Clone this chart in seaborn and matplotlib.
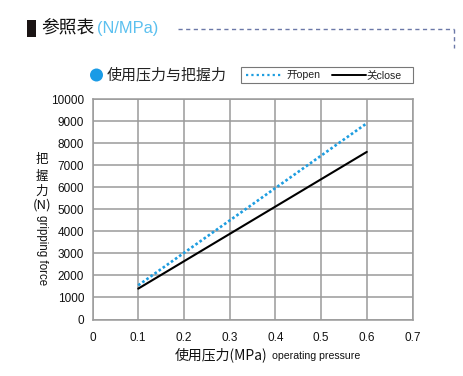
import matplotlib
matplotlib.use("Agg")
import matplotlib.pyplot as plt
import seaborn as sns
import pandas as pd
from matplotlib.lines import Line2D
from matplotlib.patches import Rectangle, Ellipse

sns.set_theme(style="white")
plt.rcParams['font.family'] = ['Liberation Sans', 'Noto Sans CJK SC', 'DejaVu Sans']

pressure = [0.1, 0.6]
open_force = [1550, 8900]
close_force = [1400, 7600]
x_ticks = [0, 0.1, 0.2, 0.3, 0.4, 0.5, 0.6, 0.7]
y_ticks = list(range(0, 10001, 1000))

BLUE = '#1d9de0'
GRID = '#9a9a9a'

df = pd.DataFrame({
    'pressure': pressure * 2,
    'force': open_force + close_force,
    'state': ['开open'] * len(pressure) + ['关close'] * len(pressure),
})

W, H = 463, 376
fig = plt.figure(figsize=(W / 100, H / 100), dpi=100)
fig.patch.set_facecolor('white')
ax = fig.add_axes([92.5 / W, 1 - 319.5 / H, (412.5 - 92.5) / W, (319.5 - 99) / H])

sns.lineplot(data=df[df.state == '开open'], x='pressure', y='force', ax=ax,
             color=BLUE, lw=1.9, linestyle=(0, (1.0, 0.9)), dash_capstyle='butt',
             legend=False)
sns.lineplot(data=df[df.state == '关close'], x='pressure', y='force', ax=ax,
             color='black', lw=1.5, legend=False)

ax.set_xlim(0, 0.7)
ax.set_ylim(0, 10000)
ax.set_xticks(x_ticks)
ax.set_xticklabels(['0' if v == 0 else f'{v:.1f}' for v in x_ticks])
ax.set_yticks(y_ticks)
ax.set_yticklabels([str(v) for v in y_ticks])
ax.grid(True, color=GRID, lw=1.1)
ax.set_axisbelow(True)
for s in ax.spines.values():
    s.set_color(GRID)
    s.set_linewidth(1.1)
ax.tick_params(axis='y', length=4, width=1, color=GRID, pad=2, labelsize=8.5, labelcolor='#111111')
ax.tick_params(axis='x', length=0, pad=9, labelsize=8.5, labelcolor='#111111')
ax.set_xlabel('')
ax.set_ylabel('')

# header
fig.add_artist(Rectangle((27 / W, 1 - 37 / H), 9 / W, 17 / H, transform=fig.transFigure,
                         color='#1a1414', lw=0))
fig.text(41 / W, 1 - 28.5 / H, '参照表', fontsize=12.8, color='#111111', va='center', ha='left',
         family=['Noto Sans CJK SC'])
fig.text(97 / W, 1 - 28.5 / H, '(N/MPa)', fontsize=11.8, color='#5bc0ef', va='center', ha='left',
         family=['Liberation Sans'])
fig.add_artist(Line2D([178 / W, 454 / W], [1 - 29 / H, 1 - 29 / H], transform=fig.transFigure,
                      color='#6b78a8', lw=1.0, linestyle=(0, (3, 2.5))))
fig.add_artist(Line2D([454 / W, 454 / W], [1 - 29 / H, 1 - 48 / H], transform=fig.transFigure,
                      color='#6b78a8', lw=1.0, linestyle=(0, (3, 2.5))))

# subtitle
fig.add_artist(Ellipse((96.5 / W, 1 - 75 / H), 13 / W, 13 / H, transform=fig.transFigure,
                       color='#1a9be6', lw=0))
fig.text(107 / W, 1 - 75 / H, '使用压力与把握力', fontsize=10.8, color='#222222', va='center', ha='left',
         family=['Noto Sans CJK SC'])

# legend box
fig.add_artist(Rectangle((241 / W, 1 - 83 / H), (413 - 241) / W, (83 - 67) / H,
                         transform=fig.transFigure, fill=False, ec='#777777', lw=0.8))
fig.add_artist(Line2D([246 / W, 283 / W], [1 - 75 / H, 1 - 75 / H], transform=fig.transFigure,
                      color=BLUE, lw=1.6, linestyle=(0, (1.0, 1.4)), dash_capstyle='butt'))
fig.text(286 / W, 1 - 75 / H, '开open', fontsize=7.6, color='#222222', va='center', ha='left')
fig.add_artist(Line2D([332 / W, 366 / W], [1 - 75 / H, 1 - 75 / H], transform=fig.transFigure,
                      color='black', lw=1.4))
fig.text(366 / W, 1 - 75 / H, '关close', fontsize=7.6, color='#222222', va='center', ha='left')

# y label
for ch, yy in zip(['把', '握', '力'], [160, 176, 191]):
    fig.text(41.5 / W, 1 - yy / H, ch, fontsize=9, color='#111111',
             va='center', ha='center', family=['Noto Sans CJK SC'])
fig.text(42 / W, 1 - 205 / H, '(N)', fontsize=9.5, color='#111111', va='center', ha='center',
         family=['Noto Sans CJK SC'])
fig.text(41.5 / W, 1 - 250 / H, 'gripping force', fontsize=8.3, color='#111111', va='center',
         ha='center', rotation=270)

# x label
fig.text(175 / W, 1 - 355 / H, '使用压力(MPa)', fontsize=10, color='#111111', va='center', ha='left',
         family=['Noto Sans CJK SC'])
fig.text(272 / W, 1 - 356 / H, 'operating pressure', fontsize=7.6, color='#111111', va='center',
         ha='left')

fig.savefig('out.png', dpi=100, facecolor='white')
